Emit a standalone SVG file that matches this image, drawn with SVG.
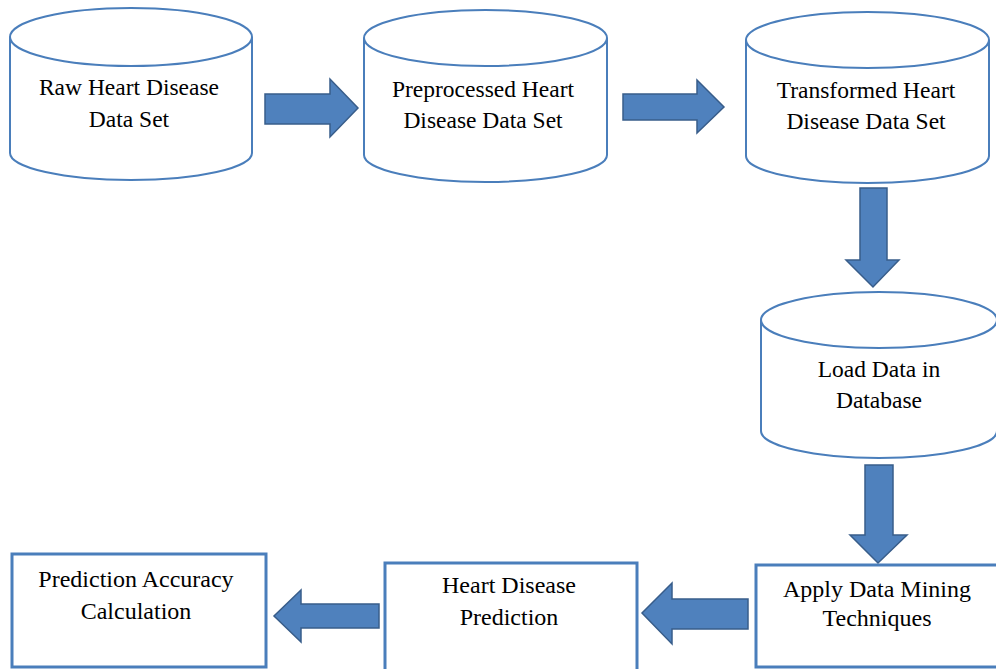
<svg xmlns="http://www.w3.org/2000/svg" width="996" height="669" viewBox="0 0 996 669">
<style>
.cyl{fill:#fff;stroke:#4a7ebb;stroke-width:2}
.box{fill:#fff;stroke:#4a7ebb;stroke-width:3}
.arr{fill:#4f81bd;stroke:#385d8a;stroke-width:1.5;stroke-linejoin:miter}
.t{font-family:'Liberation Serif','Times New Roman','DejaVu Serif',serif;font-size:23.5px;fill:#000;text-anchor:middle}
.c{font-size:24px}
</style>
<rect width="996" height="669" fill="#fff"/>
<g id="raw">
<path class="cyl" d="M10,37 V153 A121,27 0 0 0 252,153 V37"/>
<ellipse class="cyl" cx="131" cy="37" rx="121" ry="29"/>
<text class="t" x="129" y="95">Raw Heart Disease</text>
<text class="t" x="129" y="127">Data Set</text>
</g>
<g id="preprocessed">
<path class="cyl" d="M364,38 V155 A121.5,27 0 0 0 607,155 V38"/>
<ellipse class="cyl" cx="485.5" cy="38" rx="121.5" ry="28"/>
<text class="t" x="483" y="97">Preprocessed Heart</text>
<text class="t" x="483" y="128">Disease Data Set</text>
</g>
<g id="transformed">
<path class="cyl" d="M746,40 V156 A121.5,27 0 0 0 989,156 V40"/>
<ellipse class="cyl" cx="867.5" cy="40" rx="121.5" ry="28"/>
<text class="t" x="866" y="98">Transformed Heart</text>
<text class="t" x="866" y="129">Disease Data Set</text>
</g>
<g id="load">
<path class="cyl" d="M761,320 V431 A118,27 0 0 0 997,431 V320"/>
<ellipse class="cyl" cx="879" cy="320" rx="118" ry="28"/>
<text class="t" x="879" y="377">Load Data in</text>
<text class="t" x="879" y="408">Database</text>
</g>
<g id="apply">
<rect class="box" x="756" y="565" width="245" height="102"/>
<text class="t c" x="877" y="597">Apply Data Mining</text>
<text class="t c" x="877" y="626">Techniques</text>
</g>
<g id="prediction">
<rect class="box" x="385" y="563" width="252" height="108"/>
<text class="t c" x="509" y="593">Heart Disease</text>
<text class="t c" x="509" y="625">Prediction</text>
</g>
<g id="accuracy">
<rect class="box" x="12" y="554" width="254" height="113"/>
<text class="t c" x="136" y="587">Prediction Accuracy</text>
<text class="t c" x="136" y="619">Calculation</text>
</g>
<g id="connectors">
<polygon class="arr" points="265,94 330,94 330,79 358,108 330,137 330,124 265,124"/>
<polygon class="arr" points="623,94 697,94 697,80 724,107 697,133 697,120 623,120"/>
<polygon class="arr" points="860,188 887,188 887,260 899,260 873,287 846,260 860,260"/>
<polygon class="arr" points="865,465 893,465 893,535 907,535 878,563 850,535 865,535"/>
<polygon class="arr" points="748,599 672,599 672,583 642,613 672,644 672,629 748,629"/>
<polygon class="arr" points="379,604 301,604 301,590 274,616 301,642 301,628 379,628"/>
</g>
</svg>
